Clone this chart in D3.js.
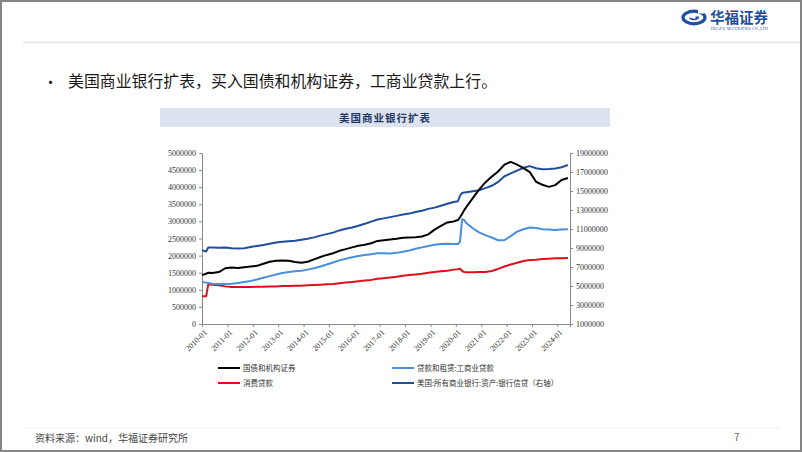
<!DOCTYPE html>
<html><head><meta charset="utf-8">
<script src="https://cdn.jsdelivr.net/npm/d3@7"></script>
<style>
html,body{margin:0;padding:0;background:#fff;}
svg{display:block;}
</style></head>
<body>
<svg id="c" width="802" height="452"></svg>
<script>
// ---------------- DATA ----------------
const dates = [
"2010-01","2010-03","2010-04","2010-06","2010-09","2010-12",
"2011-03","2011-06","2011-09","2011-12",
"2012-03","2012-06","2012-09","2012-12",
"2013-03","2013-06","2013-09","2013-12",
"2014-03","2014-06","2014-09","2014-12",
"2015-03","2015-06","2015-09","2015-12",
"2016-03","2016-06","2016-09","2016-12",
"2017-03","2017-06","2017-09","2017-12",
"2018-03","2018-06","2018-09","2018-12",
"2019-03","2019-06","2019-09","2019-12",
"2020-02","2020-03","2020-04","2020-05","2020-06","2020-09","2020-12",
"2021-03","2021-06","2021-09","2021-12",
"2022-03","2022-06","2022-09","2022-12",
"2023-03","2023-06","2023-09","2023-12",
"2024-03","2024-06"];

// 国债和机构证券 (left axis)
const treasuries = [
1430000,1470000,1500000,1490000,1520000,1630000,
1650000,1640000,1660000,1680000,
1700000,1760000,1820000,1850000,
1860000,1850000,1810000,1790000,
1820000,1890000,1960000,2020000,
2070000,2140000,2190000,2240000,
2290000,2320000,2360000,2430000,
2450000,2470000,2490000,2520000,
2530000,2540000,2560000,2620000,
2760000,2870000,2970000,3000000,
3040000,3120000,3220000,3330000,3420000,3680000,3930000,
4140000,4310000,4460000,4660000,
4740000,4660000,4560000,4440000,
4160000,4070000,4010000,4060000,
4210000,4270000];

// 贷款和租赁:工商业贷款 (left axis)
const ciLoans = [
1230000,1210000,1200000,1180000,1170000,1170000,
1180000,1200000,1230000,1260000,
1300000,1350000,1400000,1450000,
1490000,1520000,1540000,1560000,
1590000,1630000,1680000,1740000,
1800000,1860000,1910000,1950000,
1990000,2020000,2040000,2070000,
2070000,2060000,2080000,2110000,
2150000,2200000,2240000,2280000,
2320000,2340000,2350000,2340000,
2340000,2400000,3060000,3040000,2950000,2800000,2680000,
2600000,2530000,2450000,2450000,
2570000,2700000,2770000,2820000,
2810000,2770000,2760000,2750000,
2760000,2770000];

// 消费贷款 (left axis)
const consumerLoans = [
810000,810000,1160000,1150000,1130000,1100000,
1080000,1080000,1080000,1080000,
1090000,1090000,1100000,1100000,
1110000,1110000,1120000,1120000,
1130000,1140000,1150000,1160000,
1170000,1190000,1210000,1230000,
1250000,1270000,1290000,1320000,
1340000,1360000,1380000,1410000,
1430000,1450000,1470000,1500000,
1520000,1540000,1560000,1590000,
1600000,1620000,1550000,1520000,1510000,1510000,1520000,
1520000,1550000,1610000,1680000,
1740000,1790000,1840000,1870000,
1880000,1900000,1910000,1920000,
1920000,1930000];

// 美国:所有商业银行:资产:银行信贷 (right axis)
const bankCredit = [
8780000,8620000,9050000,9050000,9030000,9050000,
8980000,8950000,8970000,9100000,
9220000,9320000,9450000,9580000,
9660000,9720000,9770000,9880000,
9980000,10120000,10300000,10460000,
10620000,10850000,11020000,11150000,
11350000,11550000,11780000,12000000,
12120000,12250000,12380000,12520000,
12620000,12780000,12920000,13120000,
13250000,13450000,13650000,13850000,
13920000,14500000,14800000,14850000,14880000,14980000,15080000,
15300000,15550000,15950000,16550000,
16850000,17150000,17450000,17620000,
17400000,17300000,17320000,17360000,
17500000,17730000];

const leftTicks = [0,500000,1000000,1500000,2000000,2500000,3000000,3500000,4000000,4500000,5000000];
const rightTicks = [1000000,3000000,5000000,7000000,9000000,11000000,13000000,15000000,17000000,19000000];
const xTickLabels = ["2010-01","2011-01","2012-01","2013-01","2014-01","2015-01","2016-01","2017-01","2018-01","2019-01","2020-01","2021-01","2022-01","2023-01","2024-01"];

const seriesNames = ["国债和机构证券","贷款和租赁:工商业贷款","消费贷款","美国:所有商业银行:资产:银行信贷（右轴）"];
const seriesColors = ["#000000","#4a8ede","#e0101a","#1f4e9e"];

// ---------------- DRAW ----------------
const svg = d3.select("#c");
const parse = d3.timeParse("%Y-%m");
const serif = "'Liberation Serif','Times New Roman',serif";
const cjk = "'Noto Sans CJK SC','Noto Sans',sans-serif";

// slide frame
svg.append("rect").attr("x",1).attr("y",1).attr("width",800).attr("height",450)
  .attr("fill","#fff").attr("stroke","#858585").attr("stroke-width",2);

// header line
svg.append("line").attr("x1",23).attr("x2",800).attr("y1",42.5).attr("y2",42.5)
  .attr("stroke","#e4e4e4").attr("stroke-width",1.5);

// logo
const logo = svg.append("g").attr("transform","translate(694,17.5)");
logo.append("ellipse").attr("rx",11).attr("ry",6.3).attr("fill","none")
  .attr("stroke","#1d4f9c").attr("stroke-width",3.2);
logo.append("path").attr("d","M-5,0 A5,3.2 0 1,0 5,-1 L1,-1 A1.8,1.2 0 1,1 -1,1 Z")
  .attr("fill","#1d4f9c");
logo.append("rect").attr("x",4).attr("y",-9).attr("width",6).attr("height",5).attr("fill","#fff");
svg.append("text").attr("x",710).attr("y",23).text("华福证券")
  .attr("font-family",cjk).attr("font-weight",700).attr("font-size",14.5).attr("fill","#1d4f9c");
svg.append("text").attr("x",711).attr("y",29.5).text("HUAFU SECURITIES CO.,LTD")
  .attr("font-family",serif).attr("font-size",4).attr("textLength",57).attr("fill","#1d4f9c");

// bullet line
svg.append("text").attr("x",43).attr("y",88).text("•")
  .attr("font-family",cjk).attr("font-size",15).attr("fill","#222");
svg.append("text").attr("x",68).attr("y",87).text("美国商业银行扩表，买入国债和机构证券，工商业贷款上行。")
  .attr("font-family",cjk).attr("font-size",15.9).attr("fill","#1a1a1a");

// banner
svg.append("rect").attr("x",160).attr("y",108).attr("width",450).attr("height",19).attr("fill","#dce3ef");
svg.append("text").attr("x",385).attr("y",121.5).attr("text-anchor","middle").text("美国商业银行扩表")
  .attr("font-family",cjk).attr("font-weight",700).attr("font-size",10.5).attr("letter-spacing",1)
  .attr("fill","#1f3864");

// scales
const x = d3.scaleTime().domain([parse("2010-01"), parse("2024-07")]).range([202,570]);
const yL = d3.scaleLinear().domain([0,5000000]).range([324,153]);
const yR = d3.scaleLinear().domain([1000000,19000000]).range([324,153]);

const axisColor = "#8a8a8a";
function styleAxis(g){
  g.select(".domain").attr("stroke",axisColor);
  g.selectAll(".tick line").attr("stroke",axisColor);
  g.selectAll("text").attr("font-family",serif).attr("font-size",8).attr("fill","#333");
}

const gL = svg.append("g").attr("transform","translate(202,0)")
  .call(d3.axisLeft(yL).tickValues(leftTicks).tickFormat(d3.format("d")).tickSizeOuter(0).tickSize(3).tickPadding(3));
styleAxis(gL);
const gR = svg.append("g").attr("transform","translate(570,0)")
  .call(d3.axisRight(yR).tickValues(rightTicks).tickFormat(d3.format("d")).tickSizeOuter(0).tickSize(3).tickPadding(3));
styleAxis(gR);
const gX = svg.append("g").attr("transform","translate(0,324)")
  .call(d3.axisBottom(x).tickValues(xTickLabels.map(parse)).tickFormat(d3.timeFormat("%Y-%m")).tickSizeOuter(0).tickSize(3));
styleAxis(gX);
gX.selectAll(".tick text").attr("x",0).attr("y",0).attr("dy","0.35em")
  .attr("text-anchor","end").attr("transform","translate(3,7) rotate(-45)");

// lines
const parsed = dates.map(parse);
const lineL = d3.line().x((d,i)=>x(parsed[i])).y(d=>yL(d));
const lineR = d3.line().x((d,i)=>x(parsed[i])).y(d=>yR(d));
const plot = svg.append("g").attr("fill","none").attr("stroke-width",2).attr("stroke-linejoin","round");
plot.append("path").attr("d",lineR(bankCredit)).attr("stroke",seriesColors[3]);
plot.append("path").attr("d",lineL(consumerLoans)).attr("stroke",seriesColors[2]);
plot.append("path").attr("d",lineL(ciLoans)).attr("stroke",seriesColors[1]);
plot.append("path").attr("d",lineL(treasuries)).attr("stroke",seriesColors[0]);

// legend
const legendPos = [[218,368],[392,368],[218,383],[392,383]];
seriesNames.forEach((n,i)=>{
  const [lx,ly] = legendPos[i];
  svg.append("line").attr("x1",lx).attr("x2",lx+22).attr("y1",ly).attr("y2",ly)
    .attr("stroke",seriesColors[i]).attr("stroke-width",2);
  svg.append("text").attr("x",lx+25).attr("y",ly).attr("dy","0.35em").text(n)
    .attr("font-family",cjk).attr("font-size",7.5).attr("fill","#333");
});

// footer
svg.append("line").attr("x1",24).attr("x2",780).attr("y1",428).attr("y2",428)
  .attr("stroke","#efefef").attr("stroke-width",1);
svg.append("text").attr("x",35).attr("y",442).text("资料来源：wind，华福证券研究所")
  .attr("font-family",cjk).attr("font-size",10).attr("fill","#444");
svg.append("text").attr("x",734).attr("y",441).text("7")
  .attr("font-family",cjk).attr("font-size",10).attr("fill","#666");
</script>
</body></html>
